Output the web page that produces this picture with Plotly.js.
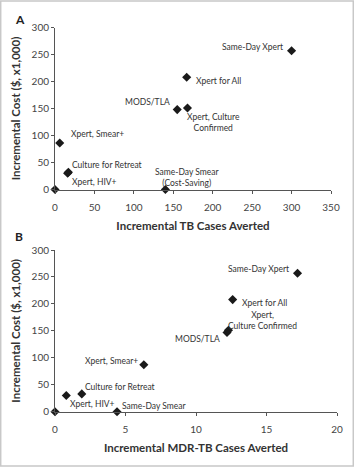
<!DOCTYPE html>
<html>
<head>
<meta charset="utf-8">
<script src="https://cdn.plot.ly/plotly-3.0.1.min.js"></script>
<style>
  html, body { margin: 0; padding: 0; background: #fff; }
  #chart { width: 354px; height: 467px; }
</style>
</head>
<body>
<div id="chart"></div>
<script>
// Strategy names (the first point is the status-quo origin)
const strategies = ["Status Quo", "Same-Day Xpert", "Xpert for All", "MODS/TLA",
  "Xpert, Culture Confirmed", "Xpert, Smear+", "Culture for Retreat", "Xpert, HIV+", "Same-Day Smear"];

// Panel A: incremental TB cases averted vs incremental cost ($ x1,000)
const tbAverted = [0, 300, 167, 155, 168, 6, 17, 16, 140];
const costA     = [0, 257, 208, 148, 151, 86, 32, 30, 0];

// Panel B: incremental MDR-TB cases averted vs incremental cost ($ x1,000)
const mdrAverted = [0, 17.2, 12.6, 12.2, 12.3, 6.3, 1.9, 0.8, 4.4];
const costB      = [0, 257, 208, 147, 151, 87, 33, 30, 0];

// Label text per point for each panel
const labelsA = ["", "Same-Day Xpert", "Xpert for All", "MODS/TLA", "Xpert, Culture<br>Confirmed",
  "Xpert, Smear+", "Culture for Retreat", "Xpert, HIV+", "Same-Day Smear<br>(Cost-Saving)"];
const labelsB = ["", "Same-Day Xpert", "Xpert for All", "MODS/TLA", "Xpert,<br>Culture Confirmed",
  "Xpert, Smear+", "Culture for Retreat", "Xpert, HIV+", "Same-Day Smear"];

// Label placement (anchor, x offset, y offset in px)
const placeA = [null, ["right", -7, 4], ["left", 7, -4], ["right", -5, 8], ["center", 26, -15],
  ["left", 9, 9], ["left", 2, 7], ["left", 2, -9], ["center", 22, 12]];
const placeB = [null, ["right", -7, 4], ["left", 7, -3], ["right", -5, -7], ["center", 34, 10],
  ["right", -4, 4], ["left", 1, 7], ["left", 2, -8], ["left", 3, 6]];

const FONT = "Lato, 'Open Sans', sans-serif";
const marker = { symbol: "diamond", size: 7, color: "#1a1a1a" };

const traces = [
  { x: tbAverted, y: costA, xaxis: "x", yaxis: "y", type: "scatter", mode: "markers",
    marker: marker, cliponaxis: false, hoverinfo: "skip" },
  { x: mdrAverted, y: costB, xaxis: "x2", yaxis: "y2", type: "scatter", mode: "markers",
    marker: marker, cliponaxis: false, hoverinfo: "skip" }
];

function pointLabels(xs, ys, labels, place, xref, yref) {
  const out = [];
  for (let i = 0; i < xs.length; i++) {
    if (!labels[i]) continue;
    const p = place[i];
    out.push({ x: xs[i], y: ys[i], xref: xref, yref: yref, text: labels[i], showarrow: false,
      xanchor: p[0], yanchor: "middle", xshift: p[1], yshift: p[2], align: "center",
      font: { family: FONT, size: 8.5, color: "#333" } });
  }
  return out;
}

const axisCommon = {
  showgrid: false, zeroline: false, showline: true, linecolor: "#555", linewidth: 1,
  ticks: "outside", ticklen: 3, tickcolor: "#555",
  tickfont: { family: FONT, size: 10, color: "#444" }
};

const annotations = [].concat(
  pointLabels(tbAverted, costA, labelsA, placeA, "x", "y"),
  pointLabels(mdrAverted, costB, labelsB, placeB, "x2", "y2"),
  [
    { text: "<b>A</b>", x: 13 / 354, y: 1 - 20 / 467, xref: "paper", yref: "paper", showarrow: false,
      xanchor: "left", yanchor: "middle", font: { family: FONT, size: 12, color: "#222" } },
    { text: "<b>B</b>", x: 13 / 354, y: 1 - 237 / 467, xref: "paper", yref: "paper", showarrow: false,
      xanchor: "left", yanchor: "middle", font: { family: FONT, size: 12, color: "#222" } }
  ]
);

const titleFont = { family: FONT, size: 11.5, color: "#333", weight: "bold" };

const layout = {
  width: 354, height: 467,
  margin: { l: 0, r: 0, t: 0, b: 0 },
  paper_bgcolor: "#fff", plot_bgcolor: "#fff",
  showlegend: false,
  xaxis: Object.assign({}, axisCommon, {
    domain: [55 / 354, 331 / 354], range: [0, 350], dtick: 50, anchor: "y",
    ticklabelstandoff: 5,
    title: { text: "<b>Incremental TB Cases Averted</b>", font: titleFont, standoff: 10 }
  }),
  yaxis: Object.assign({}, axisCommon, {
    domain: [1 - 189.5 / 467, 1 - 27.5 / 467], range: [0, 300], dtick: 50, anchor: "x",
    title: { text: "<b>Incremental Cost ($, x1,000)</b>", font: titleFont, standoff: 8 }
  }),
  xaxis2: Object.assign({}, axisCommon, {
    domain: [55 / 354, 337 / 354], range: [0, 20], dtick: 5, anchor: "y2",
    ticklabelstandoff: 5,
    title: { text: "<b>Incremental MDR-TB Cases Averted</b>", font: titleFont, standoff: 10 }
  }),
  yaxis2: Object.assign({}, axisCommon, {
    domain: [1 - 411.7 / 467, 1 - 250 / 467], range: [0, 300], dtick: 50, anchor: "x2",
    title: { text: "<b>Incremental Cost ($, x1,000)</b>", font: titleFont, standoff: 8 }
  }),
  annotations: annotations,
  shapes: [
    { type: "rect", xref: "paper", yref: "paper", x0: 0.002, x1: 0.998, y0: 0.002, y1: 0.998,
      line: { color: "#c8c8c8", width: 1.5 } }
  ]
};

Plotly.newPlot("chart", traces, layout, { displayModeBar: false, staticPlot: true });
</script>
</body>
</html>
